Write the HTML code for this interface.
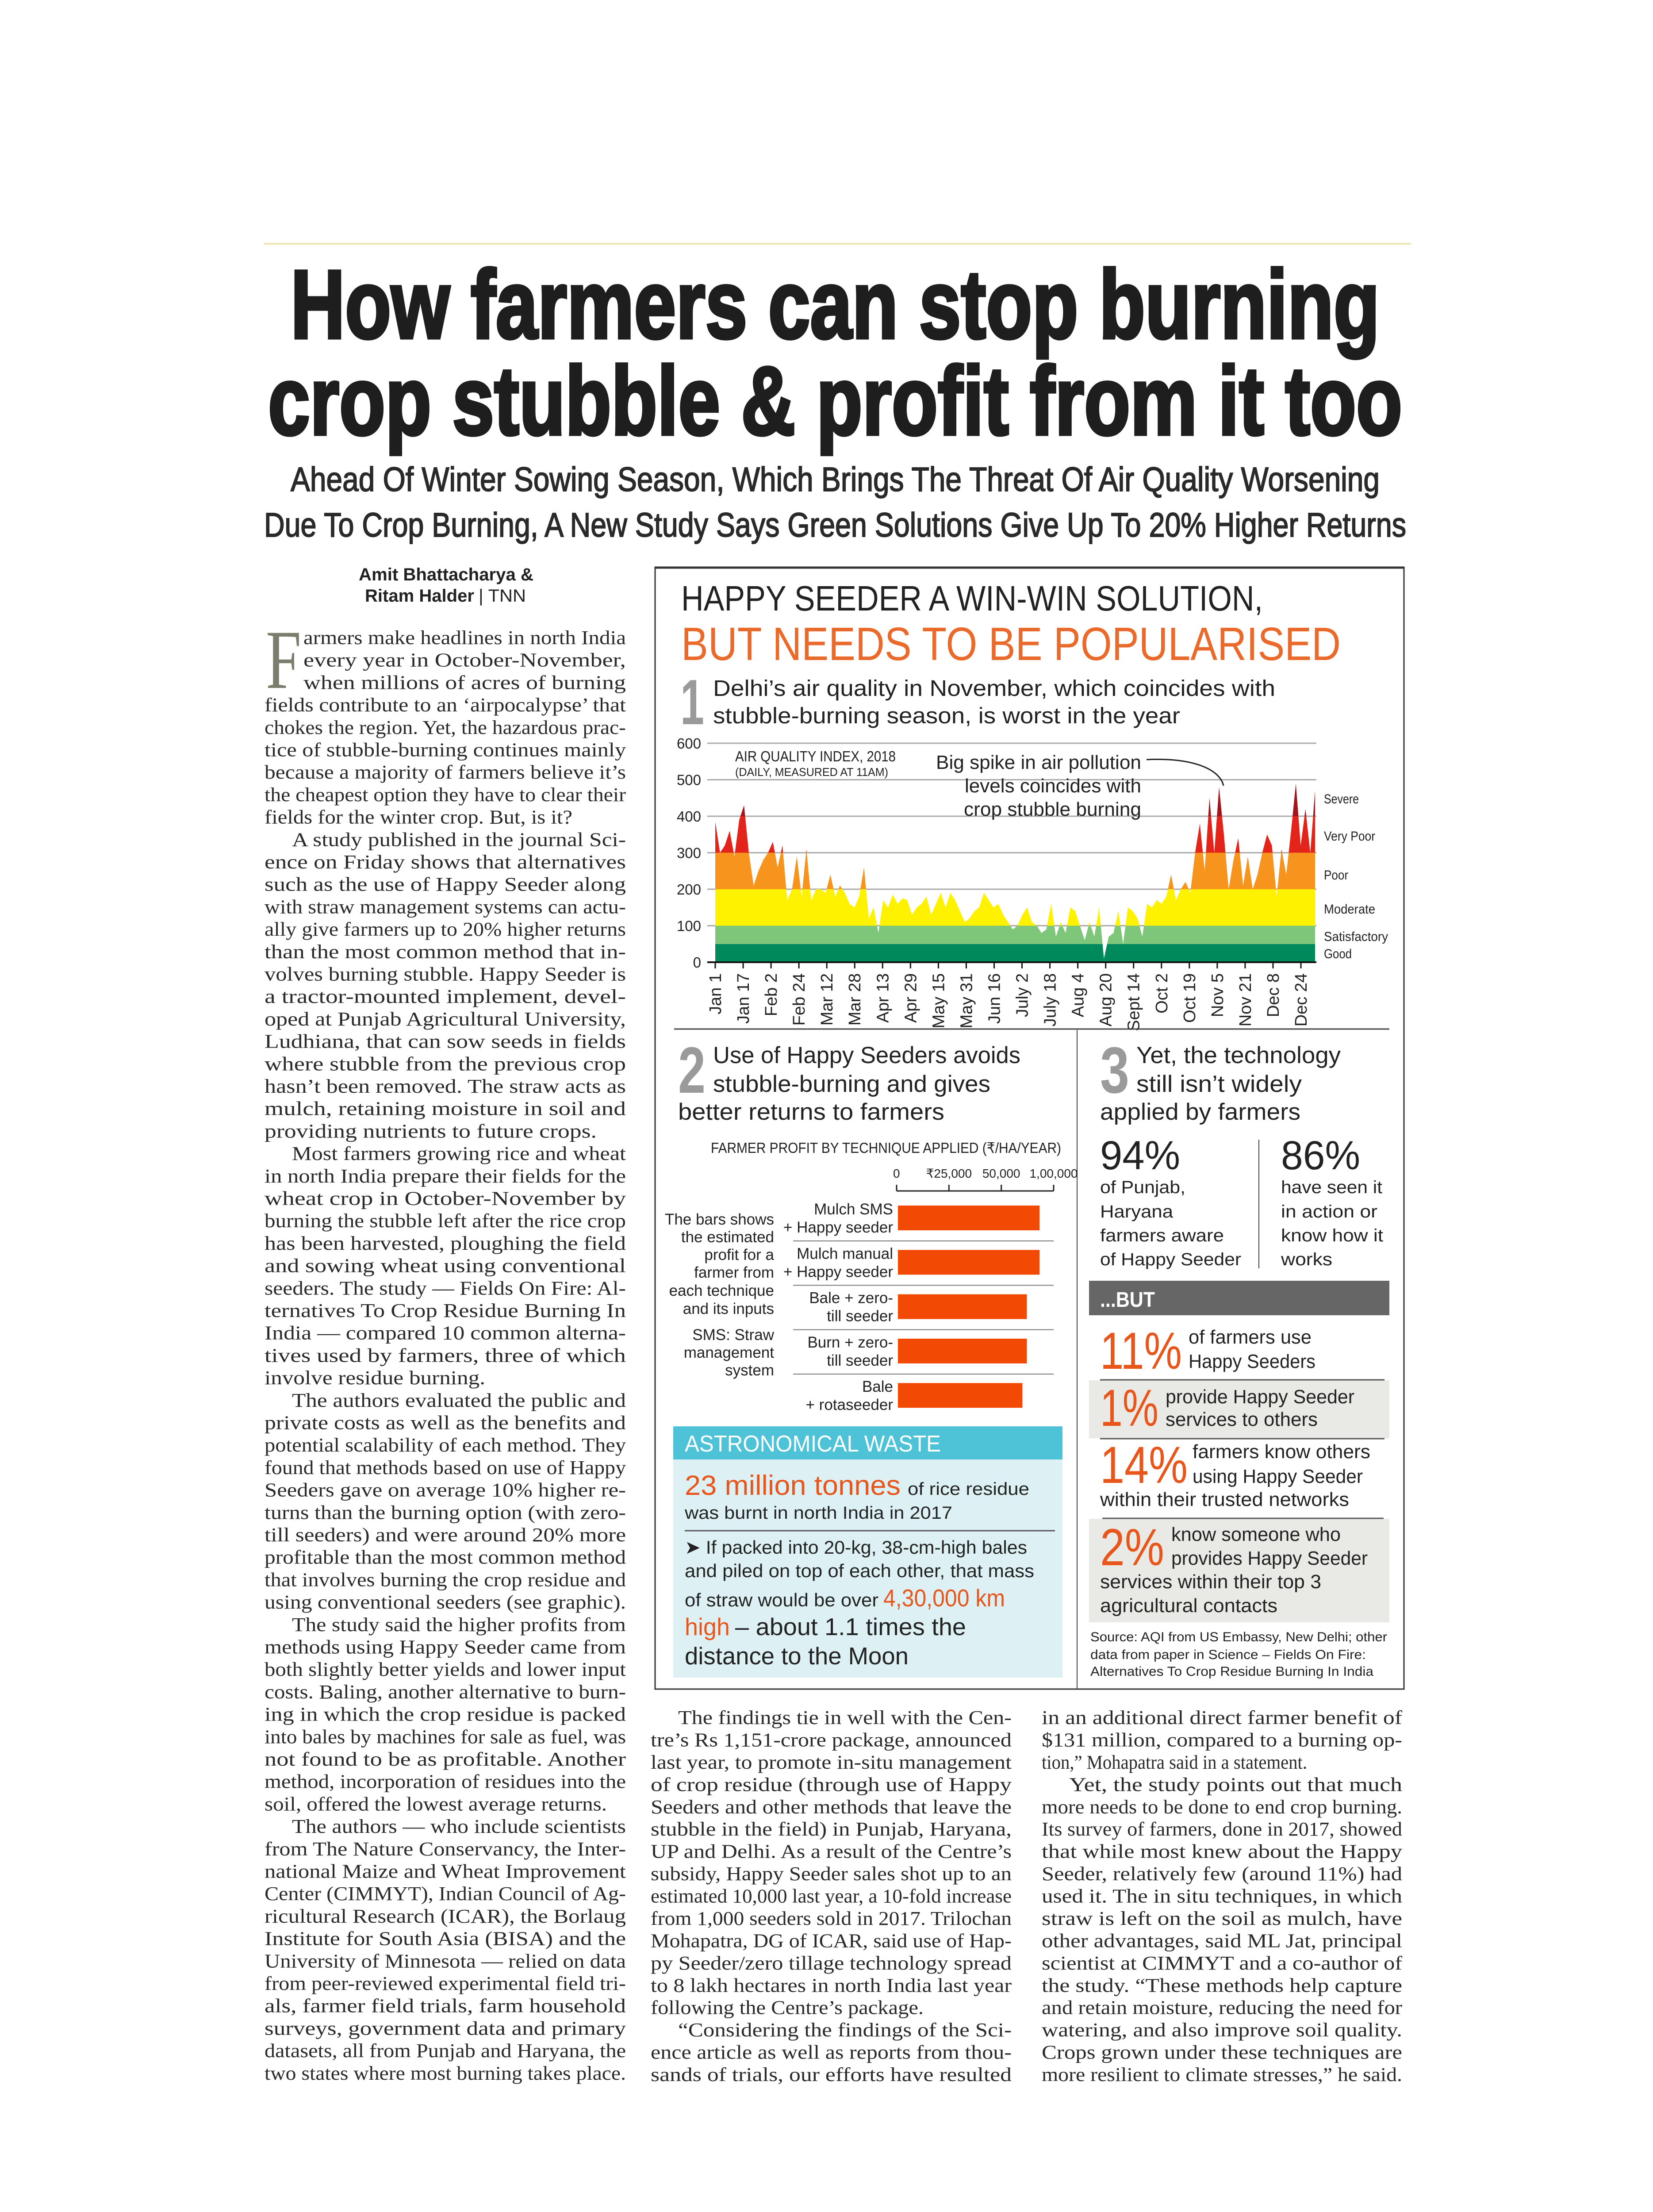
<!DOCTYPE html>
<html><head><meta charset="utf-8"><style>
html,body{margin:0;padding:0;background:#fff;width:3737px;height:5306px;overflow:hidden}
svg{display:block}
.n{font-family:"Liberation Sans Narrow","Liberation Sans",sans-serif}
.s{font-family:"Liberation Serif",serif}
</style></head><body>
<svg id="pg" xmlns="http://www.w3.org/2000/svg" width="3737" height="5306" viewBox="0 0 3737 5306" overflow="hidden">
<rect x="0" y="0" width="3737" height="5306" fill="#ffffff"/>
<line x1="597" y1="551" x2="3190" y2="551" stroke="#efe6b4" stroke-width="4"/>
<g class="n" fill="#1e1e1e" stroke="#1e1e1e" stroke-width="7">
<text x="657" y="764" font-size="220" font-weight="bold" textLength="2462" lengthAdjust="spacingAndGlyphs">How farmers can stop burning</text>
<text x="606" y="982" font-size="220" font-weight="bold" textLength="2564" lengthAdjust="spacingAndGlyphs">crop stubble &amp; profit from it too</text>
</g>
<g class="n" fill="#2a2a2a" stroke="#2a2a2a" stroke-width="2">
<text x="657" y="1110" font-size="77" textLength="2462" lengthAdjust="spacingAndGlyphs">Ahead Of Winter Sowing Season, Which Brings The Threat Of Air Quality Worsening</text>
<text x="597" y="1213" font-size="77" textLength="2582" lengthAdjust="spacingAndGlyphs">Due To Crop Burning, A New Study Says Green Solutions Give Up To 20% Higher Returns</text>
</g>
<g class="n" fill="#222">
<text x="811" y="1312" font-size="40" font-weight="bold" textLength="395" lengthAdjust="spacingAndGlyphs">Amit Bhattacharya &amp;</text>
<text x="825" y="1360" font-size="40" font-weight="bold" textLength="247" lengthAdjust="spacingAndGlyphs">Ritam Halder</text>
<text x="1082" y="1360" font-size="40" textLength="107" lengthAdjust="spacingAndGlyphs">| TNN</text>
</g>

<rect x="1481" y="1282" width="1693" height="2536" fill="none" stroke="#333" stroke-width="3"/>
<line x1="1481" y1="1283" x2="3174" y2="1283" stroke="#333" stroke-width="5"/>
<g class="n">
<text x="1540" y="1380" font-size="80" fill="#222" textLength="1315" lengthAdjust="spacingAndGlyphs">HAPPY SEEDER A WIN-WIN SOLUTION,</text>
<text x="1540" y="1492" font-size="106" fill="#ea6a2c" textLength="1491" lengthAdjust="spacingAndGlyphs">BUT NEEDS TO BE POPULARISED</text>
</g>
<g class="n">
<text x="1538" y="1637" font-size="145" font-weight="bold" fill="#9a9a9a" textLength="54" lengthAdjust="spacingAndGlyphs">1</text>
<text x="1612" y="1573" font-size="51" fill="#222" textLength="1271" lengthAdjust="spacingAndGlyphs">Delhi’s air quality in November, which coincides with</text>
<text x="1612" y="1635" font-size="51" fill="#222" textLength="1056" lengthAdjust="spacingAndGlyphs">stubble-burning season, is worst in the year</text>
</g>
<defs><clipPath id="aqiClip"><path id="aqiClipPath" d=""/></clipPath></defs>
<g id="aqiChart"></g>
<g class="n" fill="#222">
<text x="1662" y="1721" font-size="33" textLength="363" lengthAdjust="spacingAndGlyphs">AIR QUALITY INDEX, 2018</text>
<text x="1662" y="1754" font-size="26" textLength="346" lengthAdjust="spacingAndGlyphs">(DAILY, MEASURED AT 11AM)</text>
<text x="2580" y="1738" font-size="44" text-anchor="end" textLength="464" lengthAdjust="spacingAndGlyphs">Big spike in air pollution</text>
<text x="2580" y="1791" font-size="44" text-anchor="end" textLength="399" lengthAdjust="spacingAndGlyphs">levels coincides with</text>
<text x="2580" y="1844" font-size="44" text-anchor="end" textLength="401" lengthAdjust="spacingAndGlyphs">crop stubble burning</text>
</g>
<path d="M2592,1717 C2700,1712 2758,1740 2766,1776" fill="none" stroke="#222" stroke-width="3"/>
<line x1="1524" y1="2326" x2="3141" y2="2326" stroke="#444" stroke-width="3"/>
<line x1="2435" y1="2328" x2="2435" y2="3818" stroke="#444" stroke-width="2"/>

<g class="n" fill="#222">
<text x="1533" y="2470" font-size="148" font-weight="bold" fill="#9a9a9a" textLength="62" lengthAdjust="spacingAndGlyphs">2</text>
<text x="1612" y="2403" font-size="53" textLength="695" lengthAdjust="spacingAndGlyphs">Use of Happy Seeders avoids</text>
<text x="1612" y="2468" font-size="53" textLength="627" lengthAdjust="spacingAndGlyphs">stubble-burning and gives</text>
<text x="1533" y="2531" font-size="53" textLength="602" lengthAdjust="spacingAndGlyphs">better returns to farmers</text>
<text x="1607" y="2606" font-size="33" textLength="792" lengthAdjust="spacingAndGlyphs">FARMER PROFIT BY TECHNIQUE APPLIED (₹/HA/YEAR)</text>
</g>
<g id="barChart"></g>
<g class="n" fill="#222" font-size="35" text-anchor="end">
<text x="1750" y="2768">The bars shows</text>
<text x="1750" y="2808">the estimated</text>
<text x="1750" y="2848">profit for a</text>
<text x="1750" y="2888">farmer from</text>
<text x="1750" y="2929">each technique</text>
<text x="1750" y="2970">and its inputs</text>
<text x="1750" y="3029">SMS: Straw</text>
<text x="1750" y="3069">management</text>
<text x="1750" y="3109">system</text>
</g>

<g>
<rect x="1522" y="3224" width="880" height="75" fill="#4ec3d7"/>
<rect x="1522" y="3299" width="880" height="493" fill="#ddf1f4"/>
<g class="n">
<text x="1548" y="3281" font-size="52" fill="#fff" textLength="579" lengthAdjust="spacingAndGlyphs">ASTRONOMICAL WASTE</text>
<text x="1548" y="3379" font-size="63" fill="#e8561c" textLength="488" lengthAdjust="spacingAndGlyphs">23 million tonnes</text>
<text x="2052" y="3379" font-size="40" fill="#222" textLength="275" lengthAdjust="spacingAndGlyphs">of rice residue</text>
<text x="1548" y="3433" font-size="40" fill="#222" textLength="605" lengthAdjust="spacingAndGlyphs">was burnt in north India in 2017</text>
<line x1="1548" y1="3460" x2="2385" y2="3460" stroke="#555" stroke-width="3"/>
<text x="1548" y="3512" font-size="42" fill="#222" textLength="774" lengthAdjust="spacingAndGlyphs">➤ If packed into 20-kg, 38-cm-high bales</text>
<text x="1548" y="3565" font-size="42" fill="#222" textLength="790" lengthAdjust="spacingAndGlyphs">and piled on top of each other, that mass</text>
<text x="1548" y="3631" font-size="42" fill="#222" textLength="438" lengthAdjust="spacingAndGlyphs">of straw would be over</text>
<text x="1997" y="3631" font-size="55" fill="#e8561c" textLength="275" lengthAdjust="spacingAndGlyphs">4,30,000 km</text>
<text x="1548" y="3696" font-size="55" fill="#e8561c" textLength="102" lengthAdjust="spacingAndGlyphs">high</text>
<text x="1662" y="3696" font-size="55" fill="#222" textLength="522" lengthAdjust="spacingAndGlyphs">– about 1.1 times the</text>
<text x="1548" y="3762" font-size="55" fill="#222" textLength="506" lengthAdjust="spacingAndGlyphs">distance to the Moon</text>
</g>
</g>

<g class="n" fill="#222">
<text x="2487" y="2470" font-size="148" font-weight="bold" fill="#9a9a9a" textLength="66" lengthAdjust="spacingAndGlyphs">3</text>
<text x="2569" y="2403" font-size="53" textLength="462" lengthAdjust="spacingAndGlyphs">Yet, the technology</text>
<text x="2569" y="2468" font-size="53" textLength="374" lengthAdjust="spacingAndGlyphs">still isn’t widely</text>
<text x="2487" y="2531" font-size="53" textLength="453" lengthAdjust="spacingAndGlyphs">applied by farmers</text>
<text x="2487" y="2643" font-size="92" textLength="181" lengthAdjust="spacingAndGlyphs">94%</text>
<text x="2896" y="2643" font-size="92" textLength="179" lengthAdjust="spacingAndGlyphs">86%</text>
<line x1="2846" y1="2576" x2="2846" y2="2867" stroke="#444" stroke-width="2"/>
<text x="2487" y="2697" font-size="40" textLength="193" lengthAdjust="spacingAndGlyphs">of Punjab,</text>
<text x="2487" y="2752" font-size="40" textLength="165" lengthAdjust="spacingAndGlyphs">Haryana</text>
<text x="2487" y="2806" font-size="40" textLength="280" lengthAdjust="spacingAndGlyphs">farmers aware</text>
<text x="2487" y="2860" font-size="40" textLength="319" lengthAdjust="spacingAndGlyphs">of Happy Seeder</text>
<text x="2896" y="2697" font-size="40" textLength="229" lengthAdjust="spacingAndGlyphs">have seen it</text>
<text x="2896" y="2752" font-size="40" textLength="218" lengthAdjust="spacingAndGlyphs">in action or</text>
<text x="2896" y="2806" font-size="40" textLength="231" lengthAdjust="spacingAndGlyphs">know how it</text>
<text x="2896" y="2860" font-size="40" textLength="116" lengthAdjust="spacingAndGlyphs">works</text>
<rect x="2462" y="2895" width="679" height="78" fill="#666"/>
<text x="2487" y="2954" font-size="48" font-weight="bold" fill="#fff" textLength="124" lengthAdjust="spacingAndGlyphs">...BUT</text>
<text x="2487" y="3094" font-size="118" fill="#e8561c" textLength="185" lengthAdjust="spacingAndGlyphs">11%</text>
<text x="2687" y="3037" font-size="44" textLength="278" lengthAdjust="spacingAndGlyphs">of farmers use</text>
<text x="2687" y="3092" font-size="44" textLength="287" lengthAdjust="spacingAndGlyphs">Happy Seeders</text>
<rect x="2462" y="3120" width="679" height="131" fill="#e9e9e5"/>
<line x1="2487" y1="3119" x2="3130" y2="3119" stroke="#555" stroke-width="3"/>
<text x="2487" y="3223" font-size="118" fill="#e8561c" textLength="132" lengthAdjust="spacingAndGlyphs">1%</text>
<text x="2635" y="3172" font-size="44" textLength="427" lengthAdjust="spacingAndGlyphs">provide Happy Seeder</text>
<text x="2635" y="3223" font-size="44" textLength="344" lengthAdjust="spacingAndGlyphs">services to others</text>
<line x1="2487" y1="3252" x2="3130" y2="3252" stroke="#555" stroke-width="3"/>
<text x="2487" y="3352" font-size="118" fill="#e8561c" textLength="198" lengthAdjust="spacingAndGlyphs">14%</text>
<text x="2696" y="3296" font-size="44" textLength="402" lengthAdjust="spacingAndGlyphs">farmers know others</text>
<text x="2696" y="3352" font-size="44" textLength="385" lengthAdjust="spacingAndGlyphs">using Happy Seeder</text>
<text x="2487" y="3404" font-size="44" textLength="563" lengthAdjust="spacingAndGlyphs">within their trusted networks</text>
<rect x="2462" y="3433" width="679" height="234" fill="#e9e9e5"/>
<line x1="2492" y1="3432" x2="3128" y2="3432" stroke="#555" stroke-width="3"/>
<text x="2487" y="3538" font-size="118" fill="#e8561c" textLength="145" lengthAdjust="spacingAndGlyphs">2%</text>
<text x="2648" y="3483" font-size="44" textLength="383" lengthAdjust="spacingAndGlyphs">know someone who</text>
<text x="2648" y="3537" font-size="44" textLength="444" lengthAdjust="spacingAndGlyphs">provides Happy Seeder</text>
<text x="2487" y="3590" font-size="44" textLength="500" lengthAdjust="spacingAndGlyphs">services within their top 3</text>
<text x="2487" y="3644" font-size="44" textLength="401" lengthAdjust="spacingAndGlyphs">agricultural contacts</text>
<text x="2465" y="3710" font-size="30" textLength="671" lengthAdjust="spacingAndGlyphs">Source: AQI from US Embassy, New Delhi; other</text>
<text x="2465" y="3750" font-size="30" textLength="623" lengthAdjust="spacingAndGlyphs">data from paper in Science – Fields On Fire:</text>
<text x="2465" y="3788" font-size="30" textLength="640" lengthAdjust="spacingAndGlyphs">Alternatives To Crop Residue Burning In India</text>
</g>

<text class="s" x="601" y="1555" font-size="190" fill="#7b7e6c" textLength="80" lengthAdjust="spacingAndGlyphs">F</text>
<g id="bodyText" class="s" fill="#2a2a2a" font-size="44"></g>
</svg>
<script>
const aqiValues = [385,300,320,360,290,390,430,300,210,250,
280,300,330,260,320,170,200,290,180,310,
170,200,200,190,240,180,210,190,160,150,
180,260,120,150,80,170,150,185,160,175,
170,130,150,160,180,130,160,190,150,190,
170,140,110,120,140,150,190,170,150,160,
130,110,90,100,130,150,110,100,80,90,
160,70,110,80,150,140,100,60,110,70,
150,10,70,80,140,50,150,140,120,70,
160,150,170,160,180,240,170,200,220,190,
300,380,250,450,300,480,350,200,280,340,
210,290,200,240,300,350,320,180,310,240,
360,490,320,420,300,470];
const aqiYTicks = [0,100,200,300,400,500,600];
const aqiXLabels = ["Jan 1","Jan 17","Feb 2","Feb 24","Mar 12","Mar 28","Apr 13","Apr 29","May 15","May 31","Jun 16","July 2","July 18","Aug 4","Aug 20","Sept 14","Oct 2","Oct 19","Nov 5","Nov 21","Dec 8","Dec 24"];
const aqiBandLimits = [0,50,100,200,300,400,600];
const aqiBandNames = ["Good","Satisfactory","Moderate","Poor","Very Poor","Severe"];
const aqiBandColors = ["#00895a","#7dc67a","#fff200","#f7941d","#e3241b","#a3141b"];

const techniques = [["Mulch SMS","+ Happy seeder"],["Mulch manual","+ Happy seeder"],["Bale + zero-","till seeder"],["Burn + zero-","till seeder"],["Bale","+ rotaseeder"]];
const profits = [68300,68300,62200,62200,60100];
const profitTickValues = [0,25000,50000,75000];
const profitTickLabels = ["0","₹25,000","50,000","1,00,000"];

const NS = "http://www.w3.org/2000/svg";
function mk(tag, attrs, parent){const e=document.createElementNS(NS,tag);for(const k in attrs)e.setAttribute(k,attrs[k]);parent.appendChild(e);return e;}

const ax0=1617, ax1=2973, ay0=2175, ay600=1680;
const xAqi = i => ax0 + i*(ax1-ax0)/(aqiValues.length-1);
const yAqi = v => ay0 - v*(ay0-ay600)/600;
const chart=document.getElementById('aqiChart');
aqiYTicks.forEach(v=>{
  if(v>0){const g=mk('line',{x1:1599,x2:2976,y1:yAqi(v),y2:yAqi(v),stroke:'#aaa','stroke-width':3},chart);
  
  }
  const t=mk('text',{x:1585,y:yAqi(v)+12,'font-size':33,'text-anchor':'end',fill:'#222',class:'n'},chart);
  t.textContent=String(v);
  
  
});
let d='M'+xAqi(0)+','+ay0;
aqiValues.forEach((v,i)=>{d+=' L'+xAqi(i).toFixed(1)+','+yAqi(v).toFixed(1);});
d+=' L'+xAqi(aqiValues.length-1)+','+ay0+' Z';
document.getElementById('aqiClipPath').setAttribute('d',d);
const bands=mk('g',{'clip-path':'url(#aqiClip)'},chart);


for(let b=0;b<aqiBandNames.length;b++){
  const r=mk('rect',{x:ax0,width:ax1-ax0,y:yAqi(aqiBandLimits[b+1]),height:yAqi(aqiBandLimits[b])-yAqi(aqiBandLimits[b+1]),fill:aqiBandColors[b]},bands);
  
  
}
const bandLabelY=[2166,2127,2065,1988,1900,1816];
const bandLabelLen=[63,145,116,55,116,79];
aqiBandNames.forEach((nm,b)=>{
  const t=mk('text',{x:2993,y:bandLabelY[b],'font-size':30,fill:'#222',class:'n',textLength:bandLabelLen[b],lengthAdjust:'spacingAndGlyphs'},chart);
  t.textContent=nm;
  
  
});
const axl=mk('line',{x1:1599,x2:2976,y1:ay0,y2:ay0,stroke:'#111','stroke-width':4},chart);


const tickStep=(2941-1617)/(aqiXLabels.length-1);
aqiXLabels.forEach((lab,i)=>{
  const x=1617+i*tickStep;
  const tk=mk('line',{x1:x,x2:x,y1:ay0,y2:ay0+14,stroke:'#111','stroke-width':3},chart);
  
  
  const t=mk('text',{x:0,y:0,'font-size':38,'text-anchor':'end',fill:'#222',class:'n',transform:'translate('+(x+13)+',2200) rotate(-90)'},chart);
  t.textContent=lab;
  
  
});

const bc=document.getElementById('barChart');
const bx0=2027, bStep=118.33;
const xP = v => bx0 + v/25000*bStep;
const bl=mk('line',{x1:xP(0),x2:xP(75000),y1:2692,y2:2692,stroke:'#222','stroke-width':3},bc);


profitTickValues.forEach((v,i)=>{
  const tk=mk('line',{x1:xP(v),x2:xP(v),y1:2678,y2:2692,stroke:'#222','stroke-width':3},bc);
  
  
  const t=mk('text',{x:xP(v),y:2662,'font-size':28,'text-anchor':i===0?'start':'middle',fill:'#222',class:'n'},bc);
  if(i===0)t.setAttribute('x',xP(v)-8);
  t.textContent=profitTickLabels[i];
  
  
});
techniques.forEach((tech,i)=>{
  const top=2725+i*100.3;
  const r=mk('rect',{x:2030,y:top,width:xP(profits[i])-2030,height:56,fill:'#f24a05'},bc);
  
  
  const t1=mk('text',{x:2019,y:top+20,'font-size':35,'text-anchor':'end',fill:'#222',class:'n'},bc);
  t1.textContent=tech[0];
  
  
  const t2=mk('text',{x:2019,y:top+61,'font-size':35,'text-anchor':'end',fill:'#222',class:'n'},bc);
  t2.textContent=tech[1];
  
  
  if(i<techniques.length-1){
    const s=mk('line',{x1:1793,x2:2382,y1:top+80,y2:top+80,stroke:'#777','stroke-width':2},bc);
    
    
  }
});

const leftCol = [
["armers make headlines in north India",88,0],["every year in October-November,",88,0],["when millions of acres of burning",88,0],
["fields contribute to an ‘airpocalypse’ that",0,0],["chokes the region. Yet, the hazardous prac-",0,0],["tice of stubble-burning continues mainly",0,0],
["because a majority of farmers believe it’s",0,0],["the cheapest option they have to clear their",0,0],["fields for the winter crop. But, is it?",0,696],
["A study published in the journal Sci-",62,0],["ence on Friday shows that alternatives",0,0],["such as the use of Happy Seeder along",0,0],
["with straw management systems can actu-",0,0],["ally give farmers up to 20% higher returns",0,0],["than the most common method that in-",0,0],
["volves burning stubble. Happy Seeder is",0,0],["a tractor-mounted implement, devel-",0,0],["oped at Punjab Agricultural University,",0,0],
["Ludhiana, that can sow seeds in fields",0,0],["where stubble from the previous crop",0,0],["hasn’t been removed. The straw acts as",0,0],
["mulch, retaining moisture in soil and",0,0],["providing nutrients to future crops.",0,751],["Most farmers growing rice and wheat",62,0],
["in north India prepare their fields for the",0,0],["wheat crop in October-November by",0,0],["burning the stubble left after the rice crop",0,0],
["has been harvested, ploughing the field",0,0],["and sowing wheat using conventional",0,0],["seeders. The study — Fields On Fire: Al-",0,0],
["ternatives To Crop Residue Burning In",0,0],["India — compared 10 common alterna-",0,0],["tives used by farmers, three of which",0,0],
["involve residue burning.",0,499],["The authors evaluated the public and",62,0],["private costs as well as the benefits and",0,0],
["potential scalability of each method. They",0,0],["found that methods based on use of Happy",0,0],["Seeders gave on average 10% higher re-",0,0],
["turns than the burning option (with zero-",0,0],["till seeders) and were around 20% more",0,0],["profitable than the most common method",0,0],
["that involves burning the crop residue and",0,0],["using conventional seeders (see graphic).",0,0],["The study said the higher profits from",62,0],
["methods using Happy Seeder came from",0,0],["both slightly better yields and lower input",0,0],["costs. Baling, another alternative to burn-",0,0],
["ing in which the crop residue is packed",0,0],["into bales by machines for sale as fuel, was",0,0],["not found to be as profitable. Another",0,0],
["method, incorporation of residues into the",0,0],["soil, offered the lowest average returns.",0,774],["The authors — who include scientists",62,0],
["from The Nature Conservancy, the Inter-",0,0],["national Maize and Wheat Improvement",0,0],["Center (CIMMYT), Indian Council of Ag-",0,0],
["ricultural Research (ICAR), the Borlaug",0,0],["Institute for South Asia (BISA) and the",0,0],["University of Minnesota — relied on data",0,0],
["from peer-reviewed experimental field tri-",0,0],["als, farmer field trials, farm household",0,0],["surveys, government data and primary",0,0],
["datasets, all from Punjab and Haryana, the",0,0],["two states where most burning takes place.",0,0]];
const midCol = [
["The findings tie in well with the Cen-",62,0],["tre’s Rs 1,151-crore package, announced",0,0],["last year, to promote in-situ management",0,0],
["of crop residue (through use of Happy",0,0],["Seeders and other methods that leave the",0,0],["stubble in the field) in Punjab, Haryana,",0,0],
["UP and Delhi. As a result of the Centre’s",0,0],["subsidy, Happy Seeder sales shot up to an",0,0],["estimated 10,000 last year, a 10-fold increase",0,0],
["from 1,000 seeders sold in 2017. Trilochan",0,0],["Mohapatra, DG of ICAR, said use of Hap-",0,0],["py Seeder/zero tillage technology spread",0,0],
["to 8 lakh hectares in north India last year",0,0],["following the Centre’s package.",0,617],["“Considering the findings of the Sci-",62,0],
["ence article as well as reports from thou-",0,0],["sands of trials, our efforts have resulted",0,0]];
const rightCol = [
["in an additional direct farmer benefit of",0,0],["$131 million, compared to a burning op-",0,0],["tion,” Mohapatra said in a statement.",0,600],
["Yet, the study points out that much",62,0],["more needs to be done to end crop burning.",0,0],["Its survey of farmers, done in 2017, showed",0,0],
["that while most knew about the Happy",0,0],["Seeder, relatively few (around 11%) had",0,0],["used it. The in situ techniques, in which",0,0],
["straw is left on the soil as mulch, have",0,0],["other advantages, said ML Jat, principal",0,0],["scientist at CIMMYT and a co-author of",0,0],
["the study. “These methods help capture",0,0],["and retain moisture, reducing the need for",0,0],["watering, and also improve soil quality.",0,0],
["Crops grown under these techniques are",0,0],["more resilient to climate stresses,” he said.",0,0]];
const body=document.getElementById('bodyText');
function drawCol(lines,x0,width,y0,step,name){
  lines.forEach((ln,i)=>{
    const w = ln[2]>0 ? ln[2]-ln[1] : width-ln[1];
    const t=mk('text',{x:x0+ln[1],y:(y0+i*step).toFixed(1),textLength:w,lengthAdjust:'spacingAndGlyphs'},body);
    t.textContent=ln[0];
    
    
  });
}
drawCol(leftCol,598,817,1456,50.7,'left-column-line');
drawCol(midCol,1471,816,3897,50.44,'middle-column-line');
drawCol(rightCol,2355,815,3897,50.44,'right-column-line');
</script>
</body></html>
